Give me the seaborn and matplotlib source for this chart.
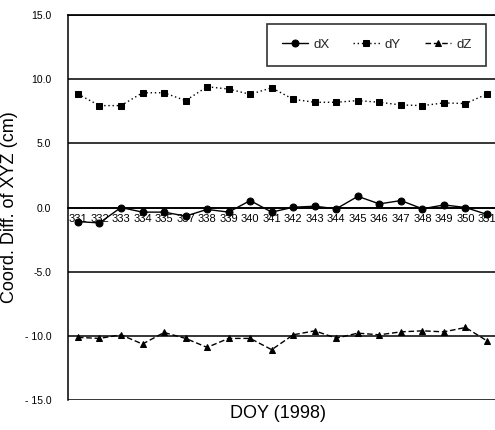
import matplotlib
matplotlib.use("Agg")
import matplotlib.pyplot as plt
import seaborn as sns
import pandas as pd
import numpy as np

days = ["331", "332", "333", "334", "335", "337", "338", "339", "340", "341",
        "342", "343", "344", "345", "346", "347", "348", "349", "350", "351"]
dX = [-1.1, -1.2, 0.0, -0.36, -0.36, -0.67, -0.15, -0.36, 0.54, -0.36,
      0.02, 0.1, -0.1, 0.87, 0.28, 0.54, -0.1, 0.2, 0.0, -0.54]
dY = [8.84, 7.94, 7.94, 8.94, 8.94, 8.33, 9.41, 9.23, 8.82, 9.33,
      8.43, 8.20, 8.20, 8.33, 8.20, 7.99, 7.94, 8.15, 8.10, 8.84]
dZ = [-10.12, -10.2, -9.92, -10.64, -9.74, -10.2, -10.9, -10.2, -10.2, -11.08,
      -9.92, -9.61, -10.18, -9.79, -9.92, -9.69, -9.61, -9.69, -9.35, -10.39]
yticks = [-15, -10, -5, 0, 5, 10, 15]
ytick_labels = ["- 15.0", "- 10.0", "-5.0", "0.0", "5.0", "10.0", "15.0"]
series_names = ["dX", "dY", "dZ"]

sns.set_theme(style="white")
plt.rcParams['font.family'] = ['Liberation Sans', 'DejaVu Sans']

rows = []
for name, vals in zip(series_names, [dX, dY, dZ]):
    for i, (d, v) in enumerate(zip(days, vals)):
        rows.append({"pos": i, "day": d, "value": v, "series": name})
df = pd.DataFrame(rows)

fig = plt.figure(figsize=(4.95, 4.3), dpi=100)
ax = fig.add_axes([68/495, 30/430, (495-68)/495, 385/430])

sns.lineplot(data=df, x="pos", y="value", hue="series", style="series",
             palette=["black"]*3,
             markers={"dX": "o", "dY": "s", "dZ": "^"},
             dashes={"dX": "", "dY": (1, 2), "dZ": (4, 2)},
             markersize=5, linewidth=1.0, markeredgecolor="black",
             ax=ax, legend=True)

ax.spines['bottom'].set_position(('data', 0))
ax.spines['bottom'].set_color('black')
ax.spines['left'].set_color('black')
ax.spines['left'].set_linewidth(1.1)
ax.spines['right'].set_visible(False)
ax.spines['top'].set_color('black')

ax.set_ylim(-15, 15)
ax.set_xlim(-0.46, 19.37)
ax.set_yticks(yticks)
ax.set_yticklabels(ytick_labels)
ax.set_xticks(range(len(days)))
ax.set_xticklabels(days)
ax.tick_params(axis='x', direction='in', length=3, width=0.8, pad=5,
               colors='black', labelsize=8)
ax.tick_params(axis='y', length=0, pad=12, colors='black', labelsize=7.5)

for y in yticks:
    ax.axhline(y, color="black", lw=1.1, zorder=0.5)

ax.set_xlabel("")
ax.set_ylabel("Coord. Diff. of XYZ (cm)", fontsize=13, color='black')
ax.yaxis.set_label_coords((18 - 68) / 427, 0.5)
fig.text(278 / 495, 1 - 413/430, "DOY (1998)", ha="center", va="center",
         fontsize=13, color='black')

handles, labels = ax.get_legend_handles_labels()
leg = ax.legend(handles, labels, ncol=3, loc="upper right",
                bbox_to_anchor=(0.995, 0.993), frameon=True, fancybox=False,
                edgecolor="black", handlelength=2.0, columnspacing=1.8,
                handletextpad=0.4, borderpad=1.1, prop={'size': 9.5})
leg.get_frame().set_linewidth(1.2)

fig.savefig("out.png", dpi=100)
